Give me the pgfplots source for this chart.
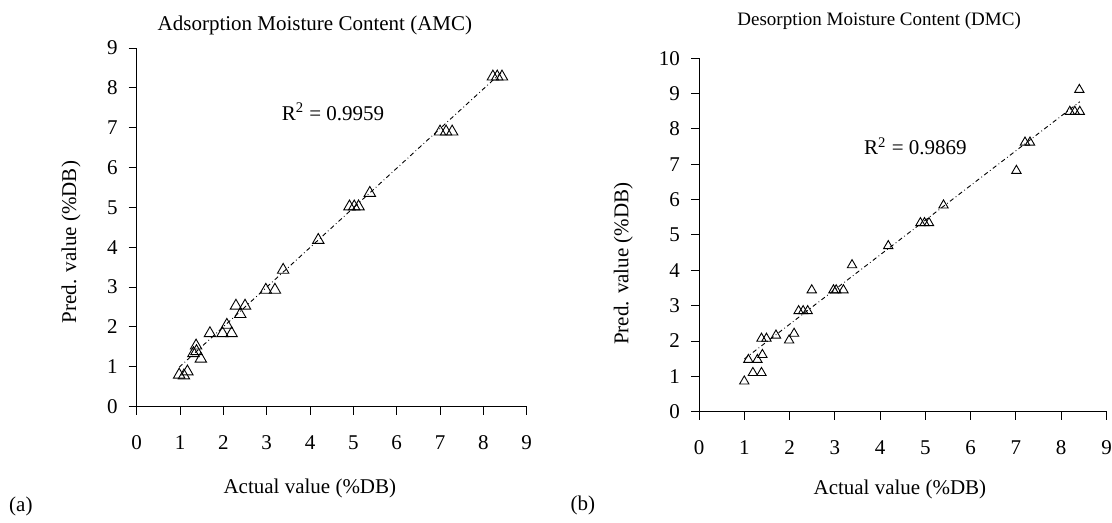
\documentclass[border=0pt]{standalone}
\usepackage{fontspec}
\setmainfont{Liberation Serif}
\usepackage{pgfplots}
\pgfplotsset{compat=1.18}

% common look of both panels
\pgfplotsset{
  moist/.style={
    scale only axis,
    axis lines=left,
    axis line style={-, line width=0.5pt},
    tick align=outside,
    major tick length=4pt,
    tick style={black, line width=0.5pt},
    xmin=0, xmax=9, ymin=0,
    xtick={0,...,9},
    /pgf/number format/assume math mode=true,
    tick label style={font=\fontsize{10.5}{12}\selectfont},
    xticklabel style={yshift=-7pt},
    yticklabel style={xshift=-2pt},
    label style={font=\fontsize{10.5}{12}\selectfont},
    clip=false,
  },
  tri/.style={only marks, mark=triangle, mark options={line width=0.45pt, fill=white}},
  fit/.style={no marks, black, line width=0.45pt, dash pattern=on 2.2pt off 1.4pt on 0.4pt off 1.4pt},
}

\begin{document}
\begin{tikzpicture}
\path[use as bounding box] (0,0) rectangle (556pt,261.5pt);

% (a) adsorption
\begin{axis}[moist,
  at={(68.35pt,58.15pt)}, anchor=south west,
  width=195pt, height=179.35pt,
  ymax=9, ytick={0,...,9},
  title={Adsorption Moisture Content (AMC)},
  title style={at={(0.457,1.064)}, anchor=center, yshift=-6pt, font=\fontsize{10.5}{12}\selectfont},
  xlabel={Actual value (\%DB)},
  xlabel style={at={(0.444,-0.229)}, anchor=center},
  ylabel={Pred. value (\%DB)},
  ylabel style={at={(-0.1685,0.459)}, anchor=center},
]
\addplot[fit] coordinates {(0.98,0.99) (8.43,8.40)};
\addplot[tri, mark size=3.3pt] coordinates {
  (0.98,0.80) (1.09,0.78) (1.17,0.88) (1.31,1.34) (1.38,1.39) (1.37,1.53)
  (1.48,1.20) (1.69,1.84) (1.98,1.84) (2.08,2.05) (2.19,1.84) (2.29,2.53)
  (2.50,2.53) (2.39,2.32) (2.98,2.93) (3.19,2.93) (3.38,3.43) (4.19,4.18)
  (4.91,5.02) (5.02,5.02) (5.12,5.02) (5.38,5.36) (7.00,6.90) (7.14,6.90)
  (7.28,6.90) (8.22,8.28) (8.32,8.28) (8.43,8.28)
};
\node[font=\fontsize{10.5}{12}\selectfont] at (axis cs:4.53,7.40) {R\textsuperscript{2} = 0.9959};
\node[font=\fontsize{10.5}{12}\selectfont] at (axis description cs:-0.297,-0.277) {(a)};
\end{axis}

% (b) desorption
\begin{axis}[moist,
  at={(349.5pt,55.65pt)}, anchor=south west,
  width=203.75pt, height=176.7pt,
  ymax=10, ytick={0,...,10},
  title={Desorption Moisture Content (DMC)},
  title style={at={(0.442,1.105)}, anchor=center, yshift=-6pt, font=\fontsize{9.5}{11}\selectfont},
  xlabel={Actual value (\%DB)},
  xlabel style={at={(0.493,-0.221)}, anchor=center},
  ylabel={Pred. value (\%DB)},
  ylabel style={at={(-0.186,0.419)}, anchor=center},
]
\addplot[fit] coordinates {(1.00,1.49) (8.41,8.77)};
\addplot[tri, mark size=2.7pt] coordinates {
  (1.00,0.86) (1.09,1.47) (1.19,1.10) (1.29,1.47) (1.38,1.10) (1.40,1.61)
  (1.38,2.07) (1.49,2.07) (1.70,2.16) (1.99,2.02) (2.10,2.21) (2.20,2.85)
  (2.30,2.85) (2.40,2.85) (2.49,3.44) (2.97,3.44) (3.03,3.44) (3.19,3.44)
  (3.38,4.15) (4.18,4.69) (4.89,5.34) (4.98,5.34) (5.08,5.34) (5.40,5.84)
  (7.01,6.82) (7.20,7.62) (7.31,7.62) (8.19,8.49) (8.30,8.49) (8.41,8.49)
  (8.40,9.11)
};
\node[font=\fontsize{10.5}{12}\selectfont] at (axis cs:4.78,7.51) {R\textsuperscript{2} = 0.9869};
\node[font=\fontsize{10.5}{12}\selectfont] at (axis description cs:-0.285,-0.264) {(b)};
\end{axis}
\end{tikzpicture}
\end{document}
